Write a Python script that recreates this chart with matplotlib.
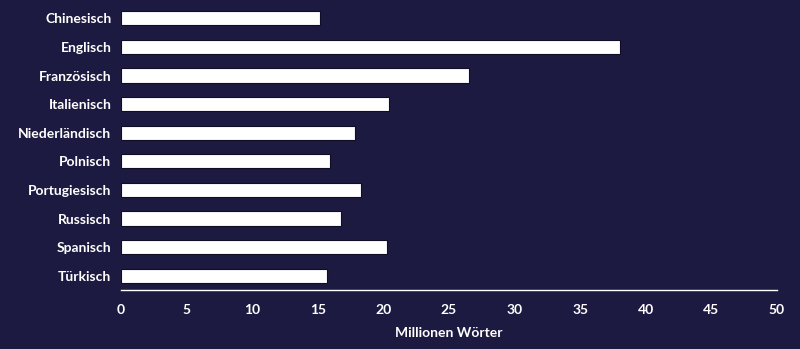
import matplotlib.pyplot as plt

sprachen = ["Chinesisch", "Englisch", "Französisch", "Italienisch", "Niederländisch",
            "Polnisch", "Portugiesisch", "Russisch", "Spanisch", "Türkisch"]
woerter = [15.2, 38.0, 26.5, 20.4, 17.8, 15.9, 18.3, 16.8, 20.3, 15.7]
xticks = [0, 5, 10, 15, 20, 25, 30, 35, 40, 45, 50]

bg = "#1c1a40"
plt.rcParams['font.family'] = ['Lato', 'DejaVu Sans']
plt.rcParams['font.weight'] = 'bold'

fig = plt.figure(figsize=(8, 3.49), dpi=100, facecolor=bg)
ax = fig.add_axes([0.15125, 0.169, 0.82, 0.8195])
ax.set_facecolor(bg)

ax.barh(range(len(sprachen)), woerter, height=0.5, color="white",
        edgecolor="#0e0d25", linewidth=0.8)
ax.set_ylim(len(sprachen) - 0.5, -0.5)
ax.set_xlim(0, 50)
ax.set_yticks(range(len(sprachen)))
ax.set_yticklabels(sprachen)
ax.set_xticks(xticks)

for s in ["top", "right", "left"]:
    ax.spines[s].set_visible(False)
ax.spines["bottom"].set_color("white")
ax.spines["bottom"].set_linewidth(1)
ax.tick_params(axis="both", length=0, colors="white", labelsize=10)
ax.tick_params(axis="x", pad=10)
ax.tick_params(axis="y", pad=7)
ax.set_xlabel("Millionen Wörter", color="white", fontsize=10,
              fontweight="bold", labelpad=8)

fig.savefig("out.png", dpi=100, facecolor=bg)
